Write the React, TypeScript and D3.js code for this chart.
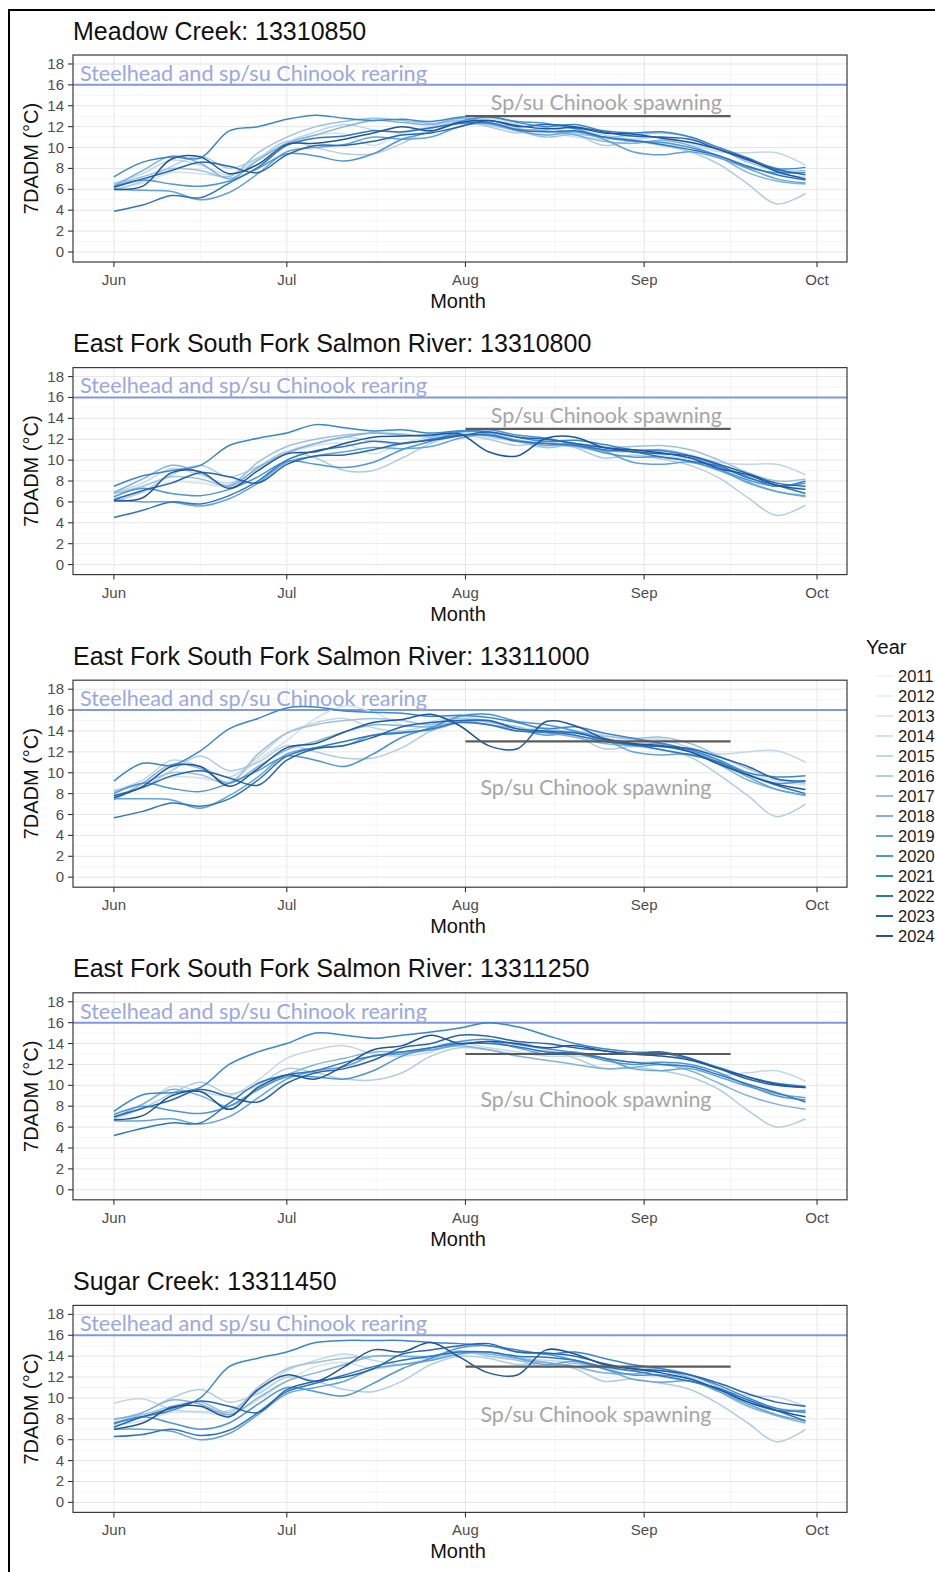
import * as d3 from "d3";

// ---- data ----
const SITE_TITLES = [
  "Meadow Creek: 13310850",
  "East Fork South Fork Salmon River: 13310800",
  "East Fork South Fork Salmon River: 13311000",
  "East Fork South Fork Salmon River: 13311250",
  "Sugar Creek: 13311450",
];

const SAMPLE_DAYS = [0, 5, 10, 15, 20, 25, 30, 35, 40, 45, 50, 55, 60, 65, 70, 75, 80, 85, 90, 95, 100, 105, 110, 115, 120];

const MONTH_TICKS = [0, 30, 61, 92, 122];
const MONTH_LABELS = ["Jun", "Jul", "Aug", "Sep", "Oct"];
const MINOR_X = [-15.5, 15, 45.5, 76.5, 107, 137];
const Y_TICKS = [0, 2, 4, 6, 8, 10, 12, 14, 16, 18];
const Y_MINOR = [1, 3, 5, 7, 9, 11, 13, 15, 17];

const YEARS = [2011, 2012, 2013, 2014, 2015, 2016, 2017, 2018, 2019, 2020, 2021, 2022, 2023, 2024];
const YEAR_COLORS = ["#f3f7fa", "#ebf1f6", "#e0e9f0", "#d2e1ec", "#c2d7e7", "#b1cde2", "#9cc2de", "#80b3dc", "#62a3db", "#4b96d6", "#3987cc", "#2d76bf", "#2665ae", "#1f559d"];

const REARING = 16;
const SPAWNING = 13;
const SPAWN_START = 61; // Aug 1
const SPAWN_END = 107; // Sep 15
const SPAWN_LABEL_Y = [13.6, 13.6, 7.9, 7.9, 7.7];
const SPAWN_LABEL_X = [65.4, 65.4, 63.6, 63.6, 63.6];

const meadowCreek = [
  { year: 2014, values: [6.1, 6.6, 7.6, 7.5, 7.3, 9.0, 10.4, 11.2, 11.3, 10.2, 11.4, 12.0, 12.7, 12.8, 12.2, 11.6, 11.0, 10.8, 10.8, 10.4, 10.0, 9.2, 8.2, 7.5, 7.2] },
  { year: 2015, values: [6.6, 7.5, 8.8, 8.3, 7.4, 8.8, 10.5, 11.5, 12.2, 11.7, 11.4, 12.0, 12.6, 12.1, 11.7, 11.5, 11.5, 11.2, 10.8, 11.0, 10.4, 9.6, 9.5, 9.5, 8.3] },
  { year: 2016, values: [5.9, 6.8, 8.2, 9.2, 8.0, 9.0, 10.6, 10.0, 9.4, 9.4, 10.4, 11.8, 12.5, 12.0, 11.4, 11.9, 11.3, 10.2, 10.6, 10.2, 9.6, 8.4, 6.5, 4.6, 5.6] },
  { year: 2017, values: [6.5, 7.2, 8.0, 7.8, 7.2, 9.5, 11.0, 12.0, 12.5, 12.8, 12.6, 12.3, 12.6, 12.2, 11.6, 11.0, 11.3, 11.0, 11.2, 11.4, 11.0, 9.9, 8.6, 7.8, 7.8] },
  { year: 2018, values: [6.3, 7.8, 9.2, 8.5, 7.0, 8.8, 10.4, 11.2, 12.0, 12.6, 12.4, 12.2, 12.8, 12.4, 11.8, 11.6, 11.2, 10.6, 10.4, 10.7, 10.2, 9.1, 7.6, 6.8, 6.5] },
  { year: 2019, values: [6.0, 5.9, 5.8, 5.0, 5.7, 7.5, 9.6, 10.0, 10.3, 11.0, 10.8, 11.0, 12.0, 12.3, 11.6, 11.2, 11.5, 10.8, 9.6, 9.3, 9.6, 9.0, 8.0, 7.0, 6.6] },
  { year: 2020, values: [6.3, 6.9, 6.5, 6.3, 6.8, 8.0, 9.4, 9.2, 8.7, 9.4, 10.8, 11.5, 12.5, 12.9, 12.5, 12.3, 11.8, 11.0, 10.6, 10.5, 10.0, 9.2, 8.1, 7.6, 7.6] },
  { year: 2021, values: [7.2, 8.6, 9.1, 9.0, 11.6, 12.0, 12.7, 13.1, 12.8, 12.6, 12.7, 12.5, 12.9, 13.0, 12.4, 12.0, 12.2, 11.6, 11.4, 11.5, 11.0, 10.0, 9.0, 8.0, 8.1] },
  { year: 2022, values: [3.9, 4.5, 5.4, 5.2, 6.6, 8.1, 10.2, 10.9, 11.1, 11.6, 11.5, 11.9, 12.3, 12.4, 11.7, 11.5, 11.6, 11.0, 10.7, 10.3, 9.8, 9.2, 8.2, 7.4, 6.9] },
  { year: 2023, values: [6.2, 7.0, 7.8, 8.6, 8.2, 7.6, 9.3, 10.2, 10.2, 10.6, 11.2, 11.4, 12.0, 12.6, 12.0, 12.2, 12.0, 11.5, 11.1, 11.0, 10.8, 9.8, 8.8, 7.9, 7.4] },
  { year: 2024, values: [6.0, 6.3, 8.9, 9.1, 7.5, 8.4, 10.3, 10.4, 10.8, 11.4, 12.0, 11.6, 12.4, 12.6, 12.1, 11.8, 11.9, 11.4, 11.3, 10.9, 10.5, 9.8, 8.9, 7.7, 7.0] },
];

const efsfSalmon800 = [
  { year: 2014, values: [6.4, 6.9, 7.9, 7.8, 7.5, 9.2, 10.6, 11.4, 11.6, 10.6, 11.6, 12.2, 12.8, 12.9, 12.3, 11.8, 11.2, 10.9, 10.9, 10.5, 10.1, 9.3, 8.3, 7.6, 7.3] },
  { year: 2015, values: [6.9, 7.8, 9.2, 8.6, 7.8, 9.2, 10.8, 11.6, 12.2, 11.8, 11.5, 12.1, 12.7, 12.2, 11.8, 11.6, 11.6, 11.3, 10.9, 11.0, 10.5, 9.8, 9.6, 9.6, 8.6] },
  { year: 2016, values: [6.0, 7.0, 8.6, 9.5, 8.4, 9.4, 10.8, 10.2, 9.0, 9.0, 10.2, 11.6, 12.4, 12.0, 11.4, 11.8, 11.2, 10.2, 10.5, 10.1, 9.5, 8.3, 6.4, 4.7, 5.7] },
  { year: 2017, values: [6.8, 7.5, 8.4, 8.2, 7.6, 9.8, 11.3, 12.0, 12.4, 12.6, 12.5, 12.2, 12.5, 12.3, 11.8, 11.2, 11.5, 11.2, 11.3, 11.4, 11.0, 10.0, 8.8, 8.0, 8.2] },
  { year: 2018, values: [6.9, 8.2, 9.5, 8.8, 7.5, 9.3, 10.7, 11.6, 12.2, 12.6, 12.4, 12.3, 12.8, 12.5, 11.9, 11.6, 11.3, 10.9, 10.8, 11.0, 10.4, 9.2, 7.8, 7.0, 6.5] },
  { year: 2019, values: [6.2, 6.0, 6.0, 5.6, 6.3, 7.8, 9.8, 10.4, 10.8, 11.2, 11.1, 11.3, 12.1, 12.5, 11.9, 11.4, 11.6, 10.9, 9.8, 9.6, 9.8, 9.0, 7.9, 7.0, 6.6] },
  { year: 2020, values: [6.5, 7.3, 6.8, 6.6, 7.2, 8.4, 9.9, 9.6, 9.3, 9.8, 11.0, 11.8, 12.7, 12.9, 12.4, 12.1, 11.5, 10.7, 10.3, 10.3, 9.9, 9.1, 8.1, 7.5, 7.8] },
  { year: 2021, values: [7.5, 8.5, 9.0, 9.5, 11.4, 12.1, 12.6, 13.4, 13.1, 12.8, 12.9, 12.6, 12.8, 12.7, 12.2, 11.8, 11.9, 11.5, 11.0, 10.9, 10.4, 9.5, 8.4, 7.5, 8.0] },
  { year: 2022, values: [4.5, 5.2, 6.0, 5.8, 6.6, 8.0, 10.0, 10.9, 11.3, 11.8, 11.6, 12.0, 12.4, 12.4, 11.8, 11.6, 11.4, 11.0, 10.8, 10.3, 9.9, 9.4, 8.3, 7.6, 6.8] },
  { year: 2023, values: [6.2, 7.1, 7.8, 8.8, 8.4, 7.8, 9.6, 10.4, 10.5, 11.0, 11.6, 11.9, 12.3, 12.7, 12.2, 12.0, 11.6, 11.2, 10.8, 10.6, 10.4, 9.6, 8.7, 7.8, 7.5] },
  { year: 2024, values: [6.1, 6.4, 8.8, 8.9, 7.3, 9.0, 10.6, 10.8, 11.6, 12.2, 12.3, 12.4, 12.5, 10.8, 10.4, 12.1, 12.2, 11.2, 11.0, 10.7, 10.2, 9.2, 8.6, 7.6, 7.2] },
];

const efsfSalmon1000 = [
  { year: 2014, values: [7.9, 8.5, 9.6, 9.5, 9.2, 11.2, 13.1, 15.2, 16.4, 15.8, 14.6, 14.9, 15.5, 15.6, 14.8, 14.2, 13.5, 13.2, 13.2, 12.7, 12.2, 11.3, 10.0, 9.2, 8.8] },
  { year: 2015, values: [8.3, 9.3, 11.2, 10.6, 9.6, 11.5, 13.8, 14.8, 15.2, 14.3, 14.0, 14.6, 15.4, 14.9, 14.4, 14.0, 14.0, 13.6, 13.2, 13.2, 12.4, 11.8, 12.0, 12.1, 11.0] },
  { year: 2016, values: [7.8, 8.6, 10.2, 11.6, 10.2, 11.0, 12.6, 12.0, 11.4, 11.4, 12.4, 14.0, 15.0, 14.6, 14.0, 14.3, 13.6, 12.3, 12.5, 12.2, 11.5, 9.8, 7.8, 5.8, 7.0] },
  { year: 2017, values: [8.2, 9.0, 10.0, 9.8, 9.0, 11.8, 13.8, 14.6, 15.0, 15.2, 15.0, 14.6, 15.2, 14.8, 14.4, 13.6, 13.9, 13.5, 13.3, 13.4, 12.8, 11.6, 10.4, 9.4, 9.0] },
  { year: 2018, values: [7.4, 9.0, 10.8, 10.4, 9.0, 10.6, 12.2, 13.0, 13.9, 14.6, 14.5, 14.4, 14.9, 14.6, 14.2, 13.8, 13.4, 12.8, 12.6, 12.8, 12.1, 10.8, 9.3, 8.4, 7.8] },
  { year: 2019, values: [7.5, 7.5, 7.4, 6.6, 7.8, 9.6, 11.8, 12.4, 12.6, 13.6, 13.9, 14.1, 14.8, 15.0, 14.2, 13.6, 13.9, 13.2, 12.0, 11.7, 11.8, 10.9, 9.6, 8.4, 7.9] },
  { year: 2020, values: [8.0, 9.0, 8.5, 8.2, 9.0, 10.2, 11.6, 11.2, 10.6, 11.8, 13.4, 14.3, 15.4, 15.6, 14.9, 14.6, 14.0, 13.1, 12.6, 12.5, 12.0, 11.0, 9.8, 9.0, 9.2] },
  { year: 2021, values: [9.2, 10.9, 10.7, 12.1, 14.2, 15.2, 16.2, 16.3, 15.9, 15.8, 15.7, 15.4, 15.5, 15.3, 14.8, 14.2, 14.4, 13.8, 13.3, 12.8, 12.2, 11.2, 10.0, 9.6, 9.7] },
  { year: 2022, values: [5.7, 6.3, 7.1, 6.8, 7.5, 9.3, 11.6, 12.4, 13.0, 13.6, 13.8, 14.2, 14.8, 14.6, 14.0, 13.9, 13.6, 13.0, 12.7, 12.2, 11.7, 11.0, 9.8, 8.8, 8.0] },
  { year: 2023, values: [7.8, 8.6, 9.7, 10.2, 9.5, 8.8, 11.2, 12.3, 12.6, 13.4, 14.4, 14.8, 15.0, 15.0, 14.2, 14.0, 13.8, 13.2, 12.7, 12.5, 12.3, 11.5, 10.6, 9.4, 9.2] },
  { year: 2024, values: [7.6, 8.7, 10.6, 10.6, 8.7, 10.4, 12.4, 12.8, 13.9, 14.8, 15.1, 15.6, 14.5, 12.6, 12.3, 14.9, 14.5, 13.3, 12.8, 12.6, 12.0, 10.8, 9.8, 8.9, 8.4] },
];

const efsfSalmon1250 = [
  { year: 2015, values: [7.3, 8.2, 9.9, 9.4, 9.0, 10.5, 12.6, 13.4, 13.8, 13.0, 12.8, 13.2, 14.0, 13.6, 13.2, 12.8, 12.8, 12.6, 12.2, 12.2, 11.6, 11.0, 11.2, 11.4, 10.4] },
  { year: 2016, values: [6.8, 7.8, 9.2, 10.3, 9.2, 10.0, 11.6, 11.2, 10.6, 10.5, 11.2, 12.8, 13.6, 13.4, 13.0, 13.3, 12.6, 11.6, 11.7, 11.4, 10.8, 9.6, 7.6, 6.0, 6.8] },
  { year: 2018, values: [6.9, 8.2, 9.6, 9.0, 8.0, 9.6, 11.0, 12.0, 12.6, 13.2, 13.2, 13.4, 13.8, 13.4, 12.8, 12.4, 12.0, 11.6, 11.7, 12.0, 11.4, 10.2, 9.0, 8.2, 7.7] },
  { year: 2019, values: [6.6, 6.6, 6.8, 6.3, 7.0, 8.8, 10.6, 11.4, 11.8, 12.8, 13.0, 13.4, 13.9, 14.2, 13.6, 13.0, 13.2, 12.6, 11.6, 11.4, 11.6, 10.8, 9.9, 9.2, 8.8] },
  { year: 2020, values: [7.2, 8.0, 7.6, 7.3, 8.0, 9.6, 10.8, 10.8, 10.6, 11.4, 12.8, 13.6, 14.2, 14.4, 13.9, 13.5, 13.1, 12.4, 12.0, 12.2, 12.0, 11.2, 10.0, 9.0, 8.6] },
  { year: 2021, values: [7.5, 9.1, 9.3, 9.8, 12.0, 13.2, 14.0, 15.0, 14.8, 14.5, 14.8, 15.1, 15.5, 16.0, 15.6, 14.8, 14.0, 13.5, 13.2, 13.1, 12.5, 11.7, 10.8, 10.2, 9.9] },
  { year: 2022, values: [5.2, 5.9, 6.4, 6.4, 8.3, 10.2, 11.0, 11.4, 12.2, 12.8, 13.2, 13.6, 14.0, 14.0, 13.7, 13.2, 13.1, 12.6, 12.2, 12.0, 11.8, 11.0, 10.1, 9.3, 8.4] },
  { year: 2023, values: [7.0, 7.8, 8.6, 9.6, 8.9, 8.4, 10.2, 11.2, 11.6, 12.4, 13.6, 14.0, 14.8, 14.7, 14.2, 14.0, 13.6, 13.3, 13.0, 13.2, 12.6, 11.6, 10.6, 10.0, 9.8] },
  { year: 2024, values: [6.7, 7.1, 9.0, 9.4, 7.7, 9.8, 11.0, 10.6, 11.9, 13.4, 13.8, 14.8, 14.0, 14.2, 14.0, 13.6, 13.8, 13.3, 13.0, 12.8, 12.4, 11.6, 10.8, 10.1, 9.8] },
];

const sugarCreek = [
  { year: 2014, values: [7.4, 7.8, 8.6, 8.6, 8.4, 9.8, 11.6, 13.0, 13.4, 12.8, 13.2, 13.8, 14.2, 14.4, 13.9, 13.4, 12.9, 12.4, 12.3, 12.0, 11.6, 10.8, 9.8, 9.0, 8.6] },
  { year: 2015, values: [9.5, 9.9, 8.9, 8.7, 8.8, 10.6, 12.6, 13.6, 14.2, 13.6, 13.2, 13.6, 14.4, 14.2, 13.8, 13.6, 13.4, 13.0, 12.8, 12.8, 12.0, 10.8, 10.2, 10.1, 9.2] },
  { year: 2016, values: [7.6, 8.6, 10.0, 10.8, 9.6, 10.4, 12.0, 11.6, 10.8, 10.6, 11.6, 13.2, 14.0, 13.8, 13.2, 13.4, 12.8, 11.6, 11.8, 11.4, 10.8, 9.4, 7.6, 5.8, 7.0] },
  { year: 2017, values: [8.0, 8.4, 9.2, 9.6, 8.6, 11.0, 12.8, 13.4, 13.8, 14.0, 14.0, 13.8, 14.4, 14.0, 13.6, 13.0, 13.3, 12.9, 12.6, 12.8, 12.2, 11.0, 9.8, 9.0, 8.8] },
  { year: 2018, values: [7.9, 8.6, 9.8, 9.4, 8.4, 10.0, 11.6, 12.4, 13.2, 14.0, 14.0, 14.0, 14.5, 14.2, 13.8, 13.4, 13.0, 12.4, 12.3, 12.6, 11.9, 10.6, 9.2, 8.3, 7.6] },
  { year: 2019, values: [7.0, 7.0, 6.8, 6.0, 6.6, 8.4, 10.4, 11.0, 11.6, 12.8, 13.2, 13.6, 14.2, 14.4, 13.8, 13.2, 13.5, 12.8, 11.8, 11.5, 11.6, 10.6, 9.4, 8.4, 7.8] },
  { year: 2020, values: [7.5, 8.2, 7.6, 7.0, 7.6, 9.4, 11.0, 10.6, 10.2, 11.4, 12.8, 13.8, 14.8, 15.0, 14.4, 14.2, 13.6, 12.8, 12.2, 12.2, 11.8, 10.8, 9.6, 8.8, 8.8] },
  { year: 2021, values: [7.6, 8.2, 8.8, 10.0, 13.0, 13.8, 14.4, 15.3, 15.5, 15.5, 15.5, 15.3, 15.2, 15.0, 14.6, 14.2, 14.4, 13.8, 13.2, 12.8, 12.2, 11.2, 10.0, 9.0, 8.6] },
  { year: 2022, values: [6.3, 6.5, 7.0, 6.4, 6.9, 8.6, 10.6, 11.4, 12.2, 13.0, 13.6, 14.0, 14.4, 14.4, 14.0, 13.9, 13.6, 13.0, 12.6, 12.1, 11.6, 10.9, 9.8, 8.8, 7.8] },
  { year: 2023, values: [7.2, 8.2, 9.0, 9.7, 9.2, 8.6, 10.8, 11.6, 12.0, 12.8, 14.2, 14.6, 15.0, 15.2, 14.4, 14.3, 14.0, 13.3, 12.8, 12.6, 12.2, 11.4, 10.4, 9.6, 9.2] },
  { year: 2024, values: [7.0, 7.6, 9.1, 9.2, 8.2, 10.8, 12.2, 11.6, 13.0, 14.6, 14.4, 15.3, 13.9, 12.4, 12.2, 14.6, 14.2, 13.2, 12.8, 12.4, 11.8, 10.8, 9.6, 8.8, 8.2] },
];

const PANELS = [meadowCreek, efsfSalmon800, efsfSalmon1000, efsfSalmon1250, sugarCreek];

// ---- layout ----
const W = 935;
const H = 1572;
const PLOT_L = 73;
const PLOT_R = 847;
const PLOT_H = 207;
const FIRST_TOP = 55;
const PANEL_STEP = 312.6;
const SANS = "'Liberation Sans', Arial, sans-serif";
const NOTE_FONT = "Lato, 'Open Sans', sans-serif";

const colorOf = (year: number) => YEAR_COLORS[YEARS.indexOf(year)];

const xScale = d3.scaleLinear().domain([-7.1, 127.2]).range([PLOT_L, PLOT_R]);

function Panel({ index }: { index: number }) {
  const top = FIRST_TOP + index * PANEL_STEP;
  const bottom = top + PLOT_H;
  const yScale = d3.scaleLinear().domain([-0.96, 18.86]).range([bottom, top]);
  const line = d3
    .line<number>()
    .x((_, j) => xScale(SAMPLE_DAYS[j]))
    .y((v) => yScale(v))
    .curve(d3.curveCatmullRom.alpha(0.5));
  const clipId = `clip-${index}`;
  const series = PANELS[index];
  const midX = (PLOT_L + PLOT_R) / 2;
  const midY = (top + bottom) / 2;

  return (
    <g>
      <defs>
        <clipPath id={clipId}>
          <rect x={PLOT_L} y={top} width={PLOT_R - PLOT_L} height={PLOT_H} />
        </clipPath>
      </defs>
      <text x={PLOT_L} y={top - 15.5} fontFamily={SANS} fontSize={25} fill="#111">
        {SITE_TITLES[index]}
      </text>
      <rect x={PLOT_L} y={top} width={PLOT_R - PLOT_L} height={PLOT_H} fill="#fff" />
      {/* grid */}
      {Y_MINOR.map((v) => (
        <line key={`ym${v}`} x1={PLOT_L} x2={PLOT_R} y1={yScale(v)} y2={yScale(v)} stroke="#f3f3f3" strokeWidth={0.8} />
      ))}
      {MINOR_X.filter((d) => xScale(d) > PLOT_L && xScale(d) < PLOT_R).map((d) => (
        <line key={`xm${d}`} x1={xScale(d)} x2={xScale(d)} y1={top} y2={bottom} stroke="#f3f3f3" strokeWidth={0.8} />
      ))}
      {Y_TICKS.map((v) => (
        <line key={`yg${v}`} x1={PLOT_L} x2={PLOT_R} y1={yScale(v)} y2={yScale(v)} stroke="#e6e6e6" strokeWidth={1} />
      ))}
      {MONTH_TICKS.map((d) => (
        <line key={`xg${d}`} x1={xScale(d)} x2={xScale(d)} y1={top} y2={bottom} stroke="#e6e6e6" strokeWidth={1} />
      ))}
      {/* rearing criterion */}
      <line x1={PLOT_L} x2={PLOT_R} y1={yScale(REARING)} y2={yScale(REARING)} stroke="#7f98e3" strokeWidth={2} />
      <text
        x={xScale(-5.9)}
        y={yScale(REARING) - 4}
        fontFamily={NOTE_FONT}
        fontSize={21}
        fill="#9aa7e2"
        textLength={347}
        lengthAdjust="spacingAndGlyphs"
      >
        Steelhead and sp/su Chinook rearing
      </text>
      {/* year lines */}
      <g clipPath={`url(#${clipId})`}>
        {series.map((s) => (
          <path key={s.year} d={line(s.values) ?? ""} fill="none" stroke={colorOf(s.year)} strokeWidth={1.5} />
        ))}
      </g>
      {/* spawning criterion */}
      <line
        x1={xScale(SPAWN_START)}
        x2={xScale(SPAWN_END)}
        y1={yScale(SPAWNING)}
        y2={yScale(SPAWNING)}
        stroke="#5b5b5b"
        strokeWidth={2.2}
      />
      <text
        x={xScale(SPAWN_LABEL_X[index])}
        y={yScale(SPAWN_LABEL_Y[index])}
        fontFamily={NOTE_FONT}
        fontSize={21}
        fill="#a6a6a6"
        textLength={231}
        lengthAdjust="spacingAndGlyphs"
      >
        Sp/su Chinook spawning
      </text>
      <rect x={PLOT_L} y={top} width={PLOT_R - PLOT_L} height={PLOT_H} fill="none" stroke="#3a3a3a" strokeWidth={1.2} />
      {/* y axis */}
      {Y_TICKS.map((v) => (
        <g key={`yt${v}`}>
          <line x1={PLOT_L - 5} x2={PLOT_L} y1={yScale(v)} y2={yScale(v)} stroke="#333" strokeWidth={1.1} />
          <text x={PLOT_L - 9} y={yScale(v) + 5} textAnchor="end" fontFamily={SANS} fontSize={15} fill="#4d4d4d">
            {v}
          </text>
        </g>
      ))}
      <text
        transform={`translate(${31},${midY}) rotate(-90)`}
        textAnchor="middle"
        dominantBaseline="central"
        fontFamily={SANS}
        fontSize={20}
        fill="#111"
      >
        7DADM (°C)
      </text>
      {/* x axis */}
      {MONTH_TICKS.map((d, k) => (
        <g key={`xt${d}`}>
          <line x1={xScale(d)} x2={xScale(d)} y1={bottom} y2={bottom + 5} stroke="#333" strokeWidth={1.1} />
          <text x={xScale(d)} y={top + 230} textAnchor="middle" fontFamily={SANS} fontSize={15} fill="#4d4d4d">
            {MONTH_LABELS[k]}
          </text>
        </g>
      ))}
      <text x={midX - 2} y={top + 253} textAnchor="middle" fontFamily={SANS} fontSize={20} fill="#111">
        Month
      </text>
    </g>
  );
}

function Legend() {
  const x0 = 876;
  const y0 = 676;
  const step = 20;
  return (
    <g>
      <text x={866} y={654} fontFamily={SANS} fontSize={20} fill="#111">
        Year
      </text>
      {YEARS.map((year, k) => (
        <g key={year}>
          <line x1={x0} x2={x0 + 17} y1={y0 + k * step} y2={y0 + k * step} stroke={YEAR_COLORS[k]} strokeWidth={2} />
          <text x={x0 + 22} y={y0 + k * step + 5.5} fontFamily={SANS} fontSize={16.5} fill="#1a1a1a">
            {year}
          </text>
        </g>
      ))}
    </g>
  );
}

export default function App() {
  return (
    <svg
      width={W}
      height={H}
      viewBox={`0 0 ${W} ${H}`}
      style={{ position: "absolute", left: 0, top: 0, background: "#fff" }}
    >
      <rect x={0} y={0} width={W} height={H} fill="#fff" />
      <rect x={9} y={10} width={W + 20} height={H + 20} fill="none" stroke="#000" strokeWidth={2} />
      {PANELS.map((_, i) => (
        <Panel key={i} index={i} />
      ))}
      <Legend />
    </svg>
  );
}
